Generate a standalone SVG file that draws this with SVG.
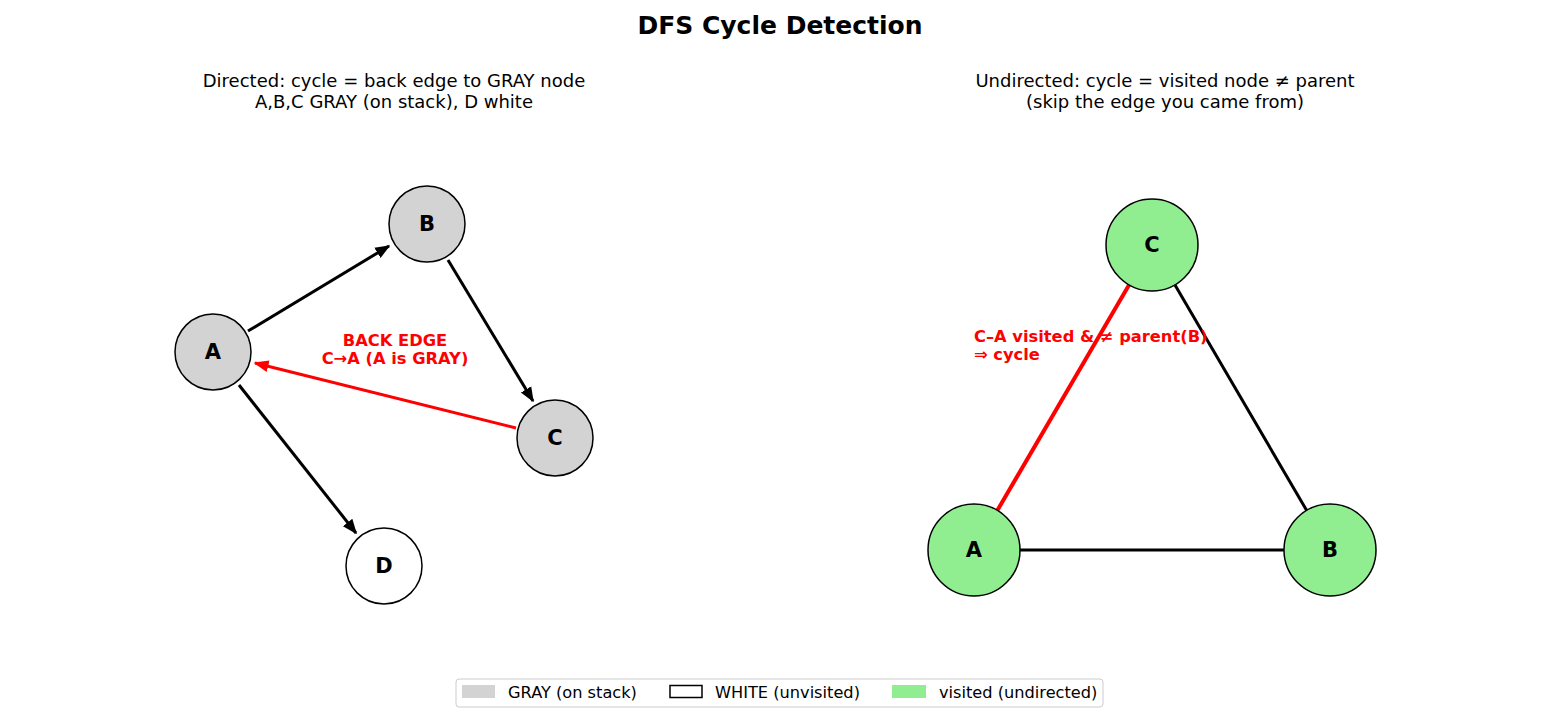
<svg xmlns="http://www.w3.org/2000/svg" width="1560" height="715" viewBox="0 0 1560 715">
<defs>
<marker id="ah" viewBox="0 0 10 10" refX="9" refY="5" markerWidth="5" markerHeight="5" markerUnits="strokeWidth" orient="auto">
<path d="M0,1 L10,5 L0,9 Z" fill="#000"/>
</marker>
<marker id="ahr" viewBox="0 0 10 10" refX="9" refY="5" markerWidth="5" markerHeight="5" markerUnits="strokeWidth" orient="auto">
<path d="M0,1 L10,5 L0,9 Z" fill="#ff0000"/>
</marker>
<style>
text{font-family:"DejaVu Sans","Liberation Sans",sans-serif}
.t{font-size:25px;font-weight:bold;text-anchor:middle}
.s{font-size:18px;text-anchor:middle}
.n{stroke:#000;stroke-width:1.5}
.gray{fill:#d3d3d3}
.white{fill:#fff}
.green{fill:#90ee90}
.lbl{font-size:21px;font-weight:bold;text-anchor:middle;dominant-baseline:central}
.e{stroke:#000;stroke-width:3;fill:none}
.r{stroke:#ff0000;stroke-width:3;fill:none}
.rt{font-size:16.3px;font-weight:bold;fill:#ff0000}
.lg{font-size:16.2px}
</style>
</defs>
<rect width="1560" height="715" fill="#fff"/>
<text class="t" x="780" y="34">DFS Cycle Detection</text>
<text class="s" x="394" y="87">Directed: cycle = back edge to GRAY node</text>
<text class="s" x="394" y="108">A,B,C GRAY (on stack), D white</text>
<text class="s" x="1165" y="87">Undirected: cycle = visited node ≠ parent</text>
<text class="s" x="1165" y="108">(skip the edge you came from)</text>

<g id="connectors">
<line class="e" x1="248" y1="331" x2="389" y2="246" marker-end="url(#ah)"/>
<line class="e" x1="448" y1="260" x2="533" y2="401" marker-end="url(#ah)"/>
<line class="e" x1="239" y1="385" x2="356" y2="533" marker-end="url(#ah)"/>
<line class="r" x1="516" y1="428" x2="255" y2="363" marker-end="url(#ahr)"/>
<line class="r" x1="997" y1="511" x2="1129" y2="285" style="stroke-width:4"/>
<line class="e" x1="1175" y1="285" x2="1307" y2="511"/>
<line class="e" x1="1020" y1="550" x2="1284" y2="550"/>
</g>

<text class="rt" x="395" y="346" text-anchor="middle">BACK EDGE</text>
<text class="rt" x="395" y="364" text-anchor="middle">C→A (A is GRAY)</text>
<text class="rt" x="974" y="342">C–A visited &amp; ≠ parent(B)</text>
<text class="rt" x="974" y="360">⇒ cycle</text>

<g id="node-dA"><circle class="n gray" cx="213" cy="352" r="38"/><text class="lbl" x="213" y="352">A</text></g>
<g id="node-dB"><circle class="n gray" cx="427" cy="224" r="38"/><text class="lbl" x="427" y="224">B</text></g>
<g id="node-dC"><circle class="n gray" cx="555" cy="438" r="38"/><text class="lbl" x="555" y="438">C</text></g>
<g id="node-dD"><circle class="n white" cx="384" cy="566" r="38"/><text class="lbl" x="384" y="566">D</text></g>

<g id="node-uC"><circle class="n green" cx="1152" cy="245" r="46"/><text class="lbl" x="1152" y="245">C</text></g>
<g id="node-uA"><circle class="n green" cx="974" cy="550" r="46"/><text class="lbl" x="974" y="550">A</text></g>
<g id="node-uB"><circle class="n green" cx="1330" cy="550" r="46"/><text class="lbl" x="1330" y="550">B</text></g>

<g id="legend">
<rect x="456" y="679" width="647" height="28" rx="3" fill="#fff" stroke="#ccc" stroke-width="1"/>
<rect x="462" y="685" width="33" height="13" fill="#d3d3d3"/>
<text class="lg" x="508" y="698">GRAY (on stack)</text>
<rect x="670" y="685.5" width="32" height="12" fill="#fff" stroke="#000" stroke-width="1.5"/>
<text class="lg" x="715" y="698">WHITE (unvisited)</text>
<rect x="892" y="685" width="34" height="13" fill="#90ee90"/>
<text class="lg" x="939" y="698">visited (undirected)</text>
</g>
</svg>
